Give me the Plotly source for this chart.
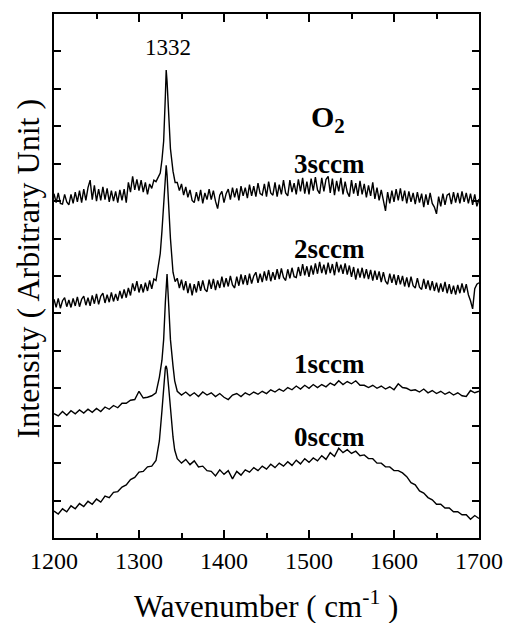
import plotly.graph_objects as go

# ---------------- Data ----------------
# Coarse grid (5 cm^-1) used for the 0 sccm and 1 sccm spectra
wn5_left = list(range(1200, 1321, 5))
wn5_peak = [1324, 1327, 1329, 1331, 1332, 1333, 1335, 1337, 1340, 1342]
wn5_right = list(range(1345, 1701, 5))
wavenumber_coarse = wn5_left + wn5_peak + wn5_right

# Fine grid (2.5 cm^-1) used for the 2 sccm and 3 sccm spectra
wn25_left = [1200 + 2.5 * i for i in range(49)]          # 1200 .. 1320
wn25_peak = [1322.5, 1325, 1327, 1329, 1331, 1332, 1333, 1335, 1337, 1340, 1342.5]
wn25_right = [1345 + 2.5 * i for i in range(143)]        # 1345 .. 1700
wavenumber_fine = wn25_left + wn25_peak + wn25_right

# 0 sccm (coarse grid)
s0_left = [0.72, 0.64, 0.78, 0.70, 0.86,
           0.78, 0.92, 0.84, 0.98, 0.90,
           1.04, 0.96, 1.12, 1.08, 1.22,
           1.24, 1.36, 1.42, 1.56, 1.62,
           1.76, 1.78, 1.90, 1.92, 2.07]
s0_peak = [2.6, 3.4, 4.1, 4.55, 4.6, 4.5, 4.0, 3.4, 2.7, 2.35]
s0_right = [2.12, 2.00, 2.10, 1.96, 2.06, 1.90, 1.92, 1.80,
            1.78, 1.66, 1.82, 1.70, 1.80, 1.58, 1.78, 1.68,
            1.82, 1.76, 1.88, 1.80, 1.92, 1.84, 1.97, 1.88,
            2.00, 1.92, 2.04, 1.94, 2.08, 1.98, 2.12, 2.02,
            2.14, 2.06, 2.20, 2.10, 2.28, 2.18, 2.40, 2.28,
            2.36, 2.26, 2.32, 2.20, 2.22, 2.12, 2.12, 2.00,
            2.00, 1.90, 1.90, 1.80, 1.80, 1.74, 1.64, 1.48,
            1.42, 1.26, 1.20, 1.08, 1.02, 0.90, 0.90, 0.80,
            0.80, 0.70, 0.70, 0.62, 0.62, 0.50, 0.60, 0.52]

# 1 sccm (coarse grid)
s1_left = [3.32, 3.26, 3.38, 3.28, 3.40,
           3.32, 3.42, 3.34, 3.44, 3.36,
           3.46, 3.38, 3.50, 3.44, 3.54,
           3.48, 3.60, 3.60, 3.68, 3.70,
           3.92, 3.74, 3.76, 3.80, 3.88]
s1_peak = [4.3, 4.75, 5.3, 6.3, 6.8, 7.05, 6.2, 5.3, 4.6, 4.2]
s1_right = [3.92, 3.82, 3.90, 3.80, 3.88, 3.78, 3.90, 3.82,
            3.88, 3.78, 3.86, 3.76, 3.70, 3.82, 3.86, 3.78,
            3.88, 3.82, 3.90, 3.84, 3.92, 3.86, 3.96, 3.90,
            3.98, 3.92, 4.02, 3.96, 4.06, 3.98, 4.08, 4.00,
            4.10, 4.02, 4.10, 4.04, 4.14, 4.08, 4.20, 4.10,
            4.18, 4.12, 4.20, 4.08, 4.08, 4.02, 4.08, 4.00,
            4.06, 3.98, 4.04, 3.96, 4.12, 4.02, 4.00, 3.94,
            3.96, 3.90, 3.98, 3.88, 3.94, 3.86, 3.92, 3.84,
            3.90, 3.82, 3.88, 3.80, 3.78, 3.94, 3.88, 3.92]

# 2 sccm (fine grid)
s2_left = [6.38, 6.16, 6.40, 6.14, 6.34, 6.42, 6.18, 6.36,
           6.16, 6.40, 6.20, 6.44, 6.18, 6.38, 6.46, 6.22,
           6.42, 6.20, 6.48, 6.26, 6.52, 6.24, 6.46, 6.54,
           6.28, 6.50, 6.30, 6.56, 6.32, 6.52, 6.34, 6.60,
           6.40, 6.64, 6.42, 6.68, 6.48, 6.80, 6.60, 6.86,
           6.56, 6.78, 6.56, 6.82, 6.60, 6.88, 6.66, 6.92,
           6.88]
s2_peak = [7.2, 7.6, 8.2, 8.9, 9.6, 9.96, 9.7, 8.8, 8.0, 7.1, 6.85]
s2_right = [6.94, 6.68, 6.90, 6.62, 6.86, 6.54, 6.80, 6.48,
            6.78, 6.56, 6.86, 6.60, 6.88, 6.64, 6.58, 6.90,
            6.66, 6.92, 6.62, 6.88, 6.68, 6.98, 6.70, 6.94,
            6.72, 7.00, 6.76, 6.68, 6.98, 6.74, 7.04, 6.78,
            7.02, 6.76, 7.06, 6.80, 7.00, 7.10, 6.82, 7.06,
            6.84, 7.12, 6.88, 7.16, 6.86, 7.10, 6.90, 7.18,
            6.92, 7.20, 6.96, 6.88, 7.18, 6.94, 7.22, 6.98,
            6.96, 7.24, 7.00, 7.32, 7.02, 7.26, 6.98, 7.28,
            7.04, 7.34, 7.06, 7.38, 7.08, 7.30, 7.04, 7.36,
            7.08, 7.32, 7.02, 7.38, 7.10, 7.30, 7.06, 7.34,
            7.04, 7.28, 6.98, 7.24, 6.90, 7.20, 6.96, 7.22,
            6.94, 7.18, 6.92, 7.16, 6.88, 7.14, 6.90, 7.12,
            6.84, 7.10, 6.86, 6.78, 7.06, 6.82, 7.04, 6.76,
            7.02, 6.78, 7.00, 6.72, 6.96, 6.70, 6.98, 6.74,
            6.68, 6.94, 6.70, 6.64, 6.92, 6.66, 6.88, 6.62,
            6.86, 6.60, 6.82, 6.56, 6.80, 6.58, 6.84, 6.54,
            6.78, 6.52, 6.74, 6.50, 6.76, 6.54, 6.80, 6.56,
            6.78, 6.50, 6.34, 6.12, 6.66, 6.78, 6.82]

# 3 sccm (fine grid)
s3_left = [9.20, 8.96, 9.22, 8.94, 8.92, 9.18, 8.98, 8.90,
           9.18, 8.94, 9.24, 8.98, 9.28, 8.96, 9.32, 9.02,
           9.36, 9.56, 9.04, 9.42, 9.00, 9.32, 9.02, 9.38,
           9.04, 9.34, 8.98, 9.28, 9.00, 9.26, 8.96, 9.30,
           9.02, 9.32, 8.96, 9.50, 9.24, 9.66, 9.30, 9.58,
           9.28, 9.56, 9.24, 9.50, 9.18, 9.46, 9.34, 9.56,
           9.52]
s3_peak = [9.62, 9.75, 10.1, 10.6, 11.8, 12.5, 12.2, 11.2, 10.4, 9.8, 9.5]
s3_right = [9.50, 9.28, 9.46, 9.16, 9.38, 9.10, 9.30, 9.02,
            8.96, 9.24, 9.00, 9.30, 8.94, 9.22, 9.04, 9.32,
            9.04, 9.28, 9.00, 8.80, 9.16, 9.26, 8.96, 9.20,
            9.32, 9.04, 9.36, 9.10, 9.34, 9.02, 9.40, 9.14,
            9.36, 9.08, 9.44, 9.14, 9.40, 9.12, 9.48, 9.20,
            9.16, 9.46, 9.12, 9.52, 9.22, 9.16, 9.50, 9.12,
            9.44, 9.18, 9.56, 9.22, 9.14, 9.56, 9.24, 9.48,
            9.18, 9.58, 9.26, 9.62, 9.20, 9.52, 9.18, 9.60,
            9.28, 9.64, 9.30, 9.20, 9.62, 9.26, 9.58, 9.66,
            9.22, 9.60, 9.16, 9.54, 9.26, 9.62, 9.18, 9.52,
            9.24, 9.12, 9.56, 9.20, 9.48, 9.14, 9.54, 9.18,
            9.46, 9.10, 9.42, 9.14, 9.50, 9.06, 9.36, 9.02,
            9.30, 8.96, 8.74, 9.24, 8.94, 9.28, 8.98, 9.32,
            9.02, 9.34, 9.00, 9.28, 8.94, 9.26, 8.98, 9.22,
            8.92, 9.24, 8.96, 9.20, 8.84, 9.18, 8.90, 9.22,
            8.94, 8.84, 8.66, 9.12, 8.86, 9.20, 8.90, 9.16,
            9.20, 8.92, 9.24, 8.96, 9.22, 8.94, 9.26, 8.98,
            9.22, 8.94, 9.20, 8.90, 9.18, 8.86, 9.06]

series = [
    ("0sccm", wavenumber_coarse, s0_left + s0_peak + s0_right),
    ("1sccm", wavenumber_coarse, s1_left + s1_peak + s1_right),
    ("2sccm", wavenumber_fine, s2_left + s2_peak + s2_right),
    ("3sccm", wavenumber_fine, s3_left + s3_peak + s3_right),
]
for name, xs, ys in series:
    assert len(xs) == len(ys), (name, len(xs), len(ys))

x_ticks = [1200, 1300, 1400, 1500, 1600, 1700]
label_names = ["3sccm", "2sccm", "1sccm", "0sccm"]

SERIF = "Liberation Serif, Times New Roman, serif"

# ---------------- Figure ----------------
fig = go.Figure()
for name, xs, ys in series:
    fig.add_trace(go.Scatter(x=xs, y=ys, mode="lines",
                             line=dict(color="black", width=1.4),
                             name=name, showlegend=False))

label_pos = {"3sccm": 10.0, "2sccm": 7.71, "1sccm": 4.65, "0sccm": 2.69}
annotations = []
for nm in label_names:
    annotations.append(dict(x=1523.7, y=label_pos[nm], xref="x", yref="y",
                            text="<b>%s</b>" % nm, showarrow=False,
                            font=dict(family=SERIF, size=27, color="black"),
                            xanchor="center", yanchor="middle"))
annotations.append(dict(x=1522.5, y=11.2, xref="x", yref="y",
                        text="<b>O<sub>2</sub></b>", showarrow=False,
                        font=dict(family=SERIF, size=30, color="black"),
                        xanchor="center", yanchor="middle"))
annotations.append(dict(x=1334.6, y=13.11, xref="x", yref="y",
                        text="1332", showarrow=False,
                        font=dict(family=SERIF, size=23, color="black"),
                        xanchor="center", yanchor="middle"))
annotations.append(dict(x=(269 - 54) / 431, y=(538 - 605) / 526, xref="paper", yref="paper",
                        text="Wavenumber ( cm<sup>-1</sup> )", showarrow=False,
                        font=dict(family=SERIF, size=31, color="black"),
                        xanchor="center", yanchor="middle"))
annotations.append(dict(x=(28 - 54) / 431, y=(538 - 268) / 526, xref="paper", yref="paper",
                        text="Intensity ( Arbitrary Unit )", showarrow=False, textangle=-90,
                        font=dict(family=SERIF, size=32, color="black"),
                        xanchor="center", yanchor="middle"))

fig.update_layout(
    width=515, height=623,
    margin=dict(l=54, r=30, t=12, b=85),
    paper_bgcolor="white", plot_bgcolor="white",
    annotations=annotations,
    xaxis=dict(range=[1200, 1700], tickvals=x_ticks, ticktext=[str(t) for t in x_ticks],
               ticks="inside", ticklen=8, tickwidth=1.5, tickcolor="black",
               minor=dict(dtick=50, tick0=1200, ticks="inside", ticklen=5, tickwidth=1.5, tickcolor="black"),
               showline=True, linewidth=2, linecolor="black", mirror="ticks",
               showgrid=False, zeroline=False,
               tickfont=dict(family=SERIF, size=24, color="black")),
    yaxis=dict(range=[0, 14], dtick=1, tick0=0, ticks="inside", ticklen=7, tickwidth=1.5,
               tickcolor="black", showticklabels=False,
               showline=True, linewidth=2, linecolor="black", mirror="ticks",
               showgrid=False, zeroline=False),
)

fig.write_html("out.html")
